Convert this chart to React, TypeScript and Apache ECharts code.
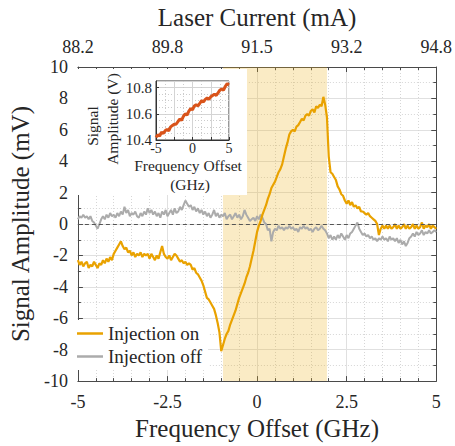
import React, { useEffect, useRef } from 'react';
import * as echarts from 'echarts';

// Sampling grid of the main traces (GHz)
const freqStart = -5;
const freqStep = 0.05;

// Injection on (mV)
const injectionOn = [
  -2.3, -2.6, -2.4, -2.7, -2.5, -2.4, -2.8, -2.6, -2.7, -2.4, -2.6, -2.8, -2.5, -2.6, -2.3, -2.5, -2.2, -2.4, -2.1, -2.3,
  -1.9, -1.7, -1.5, -1.3, -1.1, -1.4, -1.6, -1.5, -1.8, -1.7, -2.0, -1.8, -2.1, -1.9, -2.0, -1.8, -2.1, -1.9, -2.0, -1.9,
  -2.2, -1.9, -2.1, -2.3, -2.0, -2.2, -1.8, -1.4, -1.9, -2.1, -2.2, -2.0, -2.3, -2.1, -1.9, -2.0, -2.2, -2.4, -2.3, -2.5,
  -2.4, -2.6, -2.5, -2.6, -2.9, -2.8, -3.1, -3.2, -3.4, -3.6, -3.9, -4.3, -4.7, -4.8, -5.0, -5.2, -5.4, -5.8, -6.3, -6.9,
  -8.1, -7.7, -7.3, -7.0, -6.8, -6.4, -6.1, -5.8, -5.5, -5.1, -4.7, -4.4, -4.1, -3.8, -3.4, -3.1, -2.7, -2.2, -1.7, -1.1,
  -0.5, -0.1, 0.2, 0.6, 0.9, 1.2, 1.6, 1.9, 2.3, 2.5, 2.7, 3.0, 3.3, 3.5, 3.8, 4.3, 4.8, 5.2, 5.7, 5.9,
  6.0, 5.9, 6.2, 6.3, 6.5, 6.7, 6.6, 6.9, 7.0, 6.9, 7.2, 7.3, 7.1, 7.5, 7.4, 7.6, 7.5, 8.1, 7.6, 6.8,
  4.3, 3.3, 3.2, 3.0, 2.8, 2.4, 2.2, 1.9, 1.8, 1.5, 1.3, 1.5, 1.2, 1.4, 1.1, 1.2, 1.0, 1.1, 0.8, 0.8,
  0.7, 0.6, 0.7, 0.5, 0.4, 0.3, 0.2, 0.0, -0.7, -0.3, -0.1, -0.3, -0.1, -0.3, -0.1, -0.3, -0.2, 0.0, -0.3, -0.1,
  -0.3, -0.2, 0.0, -0.3, -0.1, -0.3, -0.2, 0.0, -0.3, -0.1, -0.3, -0.2, 0.1, -0.3, -0.1, -0.2, 0.0, -0.3, -0.1, -0.2,
  -0.3,
];

// Injection off (mV)
const injectionOff = [
  0.3, 0.5, 0.4, 0.6, 0.4, 0.5, 0.3, 0.5, 0.2, 0.1, -0.1, -0.3, 0.0, 0.3, 0.5, 0.3, 0.6, 0.4, 0.7, 0.5,
  0.6, 0.4, 0.7, 0.5, 0.8, 0.6, 1.1, 0.7, 0.9, 0.5, 0.7, 0.6, 0.8, 0.5, 0.4, 0.7, 0.5, 0.8, 0.6, 1.0,
  0.7, 0.9, 0.6, 0.8, 0.5, 0.7, 0.4, 0.8, 0.6, 0.9, 0.5, 0.7, 0.9, 0.6, 1.0, 0.7, 0.8, 1.1, 0.9, 1.2,
  1.5, 1.3, 1.1, 1.2, 0.9, 1.1, 0.8, 1.0, 0.7, 0.9, 0.6, 0.8, 0.5, 0.7, 0.4, 0.6, 0.9, 0.5, 0.7, 0.4,
  0.6, 0.5, 0.7, 0.3, 0.5, 0.6, 0.3, 0.5, 0.7, 0.4, 0.6, 0.3, 0.5, 0.9, 0.6, 0.4, 0.2, 0.3, 0.4, 0.2,
  0.5, 0.3, 0.6, 0.4, 0.1, 0.0, -0.4, -0.3, -1.1, -0.5, -0.3, -0.4, -0.1, -0.3, -0.2, -0.4, -0.2, -0.3, -0.1, -0.3,
  -0.2, -0.4, -0.3, -0.5, -0.2, -0.3, -0.1, -0.3, -0.2, -0.4, -0.3, -0.5, -0.3, -0.2, -0.4, -0.3, -0.1, -0.3, -0.4, -0.6,
  -0.9, -0.7, -1.0, -0.8, -1.0, -0.7, -0.9, -0.6, -0.8, -1.0, -0.7, -0.9, -0.6, -0.5, -0.3, -0.1, 0.1, -0.3, -0.5, -0.7,
  -0.6, -0.8, -0.7, -0.9, -0.8, -1.0, -0.9, -1.1, -0.9, -1.0, -0.8, -1.0, -0.9, -1.1, -0.8, -1.0, -0.9, -1.1, -0.9, -1.2,
  -1.0, -1.3, -1.1, -1.4, -1.2, -0.9, -0.8, -0.6, -0.8, -0.5, -0.7, -0.6, -0.4, -0.7, -0.5, -0.6, -0.4, -0.6, -0.5, -0.4,
  -0.5,
];

// Inset: frequency offset (GHz) and signal amplitude (V)
const insetFreq = [
  -5, -4.75, -4.5, -4.25, -4, -3.75, -3.5, -3.25, -3, -2.75, -2.5, -2.25, -2, -1.75, -1.5, -1.25, -1, -0.75, -0.5, -0.25,
  0, 0.25, 0.5, 0.75, 1, 1.25, 1.5, 1.75, 2, 2.25, 2.5, 2.75, 3, 3.25, 3.5, 3.75, 4, 4.25, 4.5, 4.75, 5,
];
const insetAmp = [
  10.42, 10.44, 10.43, 10.46, 10.45, 10.47, 10.48, 10.47, 10.5, 10.51, 10.52, 10.52, 10.54, 10.56, 10.55, 10.58, 10.6, 10.59, 10.62, 10.64,
  10.63, 10.66, 10.67, 10.66, 10.68, 10.7, 10.69, 10.71, 10.72, 10.71, 10.73, 10.74, 10.75, 10.74, 10.76, 10.78, 10.79, 10.78, 10.81, 10.83, 10.82,
];

const topTickLabels = ['88.2', '89.8', '91.5', '93.2', '94.8'];
const shadedRange = [-0.95, 1.95];
const seriesNames = ['Injection on', 'Injection off'];

const FONT = 'Liberation Serif';
const TXT = '#262626';
const AX = '#4a4a4a';

function buildOption() {
  const onData = injectionOn.map((v, i) => [+(freqStart + i * freqStep).toFixed(2), v]);
  const offData = injectionOff.map((v, i) => [+(freqStart + i * freqStep).toFixed(2), v]);
  const insetData = insetFreq.map((f, i) => [f, insetAmp[i]]);

  const tickStyle = { show: true, inside: true, length: 5, lineStyle: { color: AX } };
  const minorTickStyle = (n: number) => ({ show: true, splitNumber: n, length: 3, lineStyle: { color: AX } });

  return {
    animation: false,
    textStyle: { fontFamily: FONT },
    grid: [
      { left: 71, right: 17, top: 67, bottom: 55 },
      { left: 156, top: 81, width: 73, height: 59, show: true, backgroundColor: '#fff', borderColor: '#333', borderWidth: 1, z: 5 },
    ],
    legend: {
      data: seriesNames,
      orient: 'vertical',
      left: 72,
      top: 320,
      icon: 'rect',
      itemWidth: 26,
      itemHeight: 2.5,
      itemGap: 4,
      backgroundColor: '#fff',
      padding: [4, 6, 4, 5],
      textStyle: { fontFamily: FONT, fontSize: 19, color: TXT },
    },
    xAxis: [
      {
        type: 'value', gridIndex: 0, min: -5, max: 5, interval: 2.5, position: 'bottom',
        name: 'Frequency Offset (GHz)', nameLocation: 'middle', nameGap: 27,
        nameTextStyle: { fontFamily: FONT, fontSize: 25, color: TXT },
        axisLine: { show: true, onZero: false, lineStyle: { color: AX } },
        axisTick: tickStyle,
        minorTick: minorTickStyle(5),
        axisLabel: { fontFamily: FONT, fontSize: 18, color: TXT, margin: 12 },
        splitLine: { show: true, lineStyle: { color: '#e0e0e0', width: 1 } },
        minorSplitLine: { show: true, lineStyle: { color: '#d6d6d6', type: [1, 2] } },
      },
      {
        type: 'value', gridIndex: 0, min: -5, max: 5, interval: 2.5, position: 'top',
        name: 'Laser Current (mA)', nameLocation: 'middle', nameGap: 37,
        nameTextStyle: { fontFamily: FONT, fontSize: 25, color: TXT },
        axisLine: { show: true, onZero: false, lineStyle: { color: AX } },
        axisTick: tickStyle,
        minorTick: minorTickStyle(5),
        axisLabel: {
          fontFamily: FONT, fontSize: 18, color: TXT, margin: 11,
          formatter: (v: number) => topTickLabels[Math.round((v + 5) / 2.5)] ?? '',
        },
        splitLine: { show: false },
      },
      {
        type: 'value', gridIndex: 1, min: -5, max: 5, interval: 2.5, z: 6,
        axisLine: { show: true, onZero: false, lineStyle: { color: '#333' } },
        axisTick: { show: true, inside: true, length: 3, lineStyle: { color: '#333' } },
        axisLabel: {
          fontFamily: FONT, fontSize: 14, color: TXT, margin: 1,
          formatter: (v: number) => (Math.abs(v % 5) < 1e-9 ? String(v) : ''),
        },
        splitLine: { show: true, lineStyle: { color: '#d4d4d4' } },
        minorSplitLine: { show: true, lineStyle: { color: '#cccccc', type: [1, 2] } },
        minorTick: { show: false, splitNumber: 2 },
      },
    ],
    yAxis: [
      {
        type: 'value', gridIndex: 0, min: -10, max: 10, interval: 2, position: 'left',
        name: 'Signal Amplitude (mV)', nameLocation: 'middle', nameGap: 31,
        nameTextStyle: { fontFamily: FONT, fontSize: 25, color: TXT },
        axisLine: { show: true, onZero: false, lineStyle: { color: AX } },
        axisTick: tickStyle,
        minorTick: minorTickStyle(2),
        axisLabel: { fontFamily: FONT, fontSize: 18, color: TXT, margin: 10 },
        splitLine: { show: true, lineStyle: { color: '#e0e0e0', width: 1 } },
        minorSplitLine: { show: true, lineStyle: { color: '#d6d6d6', type: [1, 2] } },
      },
      {
        type: 'value', gridIndex: 0, min: -10, max: 10, interval: 2, position: 'right',
        axisLine: { show: true, onZero: false, lineStyle: { color: AX } },
        axisTick: tickStyle,
        minorTick: minorTickStyle(2),
        axisLabel: { show: false },
        splitLine: { show: false },
      },
      {
        type: 'value', gridIndex: 1, min: 10.4, max: 10.85, interval: 0.2, z: 6,
        axisLine: { show: true, onZero: false, lineStyle: { color: '#333' } },
        axisTick: { show: true, inside: true, length: 3, lineStyle: { color: '#333' } },
        axisLabel: {
          fontFamily: FONT, fontSize: 15, color: TXT, margin: 4, showMaxLabel: false,
          formatter: (v: number) => v.toFixed(1),
        },
        splitLine: { show: true, lineStyle: { color: '#d4d4d4' } },
        minorSplitLine: { show: true, lineStyle: { color: '#cccccc', type: [1, 2] } },
        minorTick: { show: false, splitNumber: 4 },
      },
    ],
    graphic: {
      elements: [
        { type: 'rect', shape: { x: 72, y: 69, width: 175, height: 126 }, style: { fill: '#fff' }, z: 4, silent: true },
        {
          type: 'text', x: 92, y: 126, rotation: Math.PI / 2, z: 8,
          style: { text: 'Signal', fontFamily: FONT, fontSize: 15.5, fill: TXT, textAlign: 'center', textVerticalAlign: 'middle' },
        },
        {
          type: 'text', x: 112, y: 119, rotation: Math.PI / 2, z: 8,
          style: { text: 'Amplitude (V)', fontFamily: FONT, fontSize: 15.5, fill: TXT, textAlign: 'center', textVerticalAlign: 'middle' },
        },
        {
          type: 'text', x: 188, y: 165, z: 8,
          style: { text: 'Frequency Offset', fontFamily: FONT, fontSize: 15.5, fill: TXT, textAlign: 'center', textVerticalAlign: 'middle' },
        },
        {
          type: 'text', x: 190, y: 184, z: 8,
          style: { text: '(GHz)', fontFamily: FONT, fontSize: 15.5, fill: TXT, textAlign: 'center', textVerticalAlign: 'middle' },
        },
      ],
    },
    series: [
      {
        name: 'Injection off', type: 'line', xAxisIndex: 0, yAxisIndex: 0, data: offData,
        symbol: 'none', z: 2,
        lineStyle: { color: '#ababab', width: 2 }, itemStyle: { color: '#ababab' },
        markArea: {
          silent: true,
          itemStyle: { color: 'rgba(237,177,32,0.26)' },
          data: [[{ xAxis: shadedRange[0] }, { xAxis: shadedRange[1] }]],
        },
        markLine: {
          silent: true, symbol: 'none', label: { show: false },
          lineStyle: { color: '#555', type: [4, 3], width: 1 },
          data: [{ yAxis: 0 }],
        },
      },
      {
        name: 'Injection on', type: 'line', xAxisIndex: 0, yAxisIndex: 0, data: onData,
        symbol: 'none', z: 3,
        lineStyle: { color: '#E9A200', width: 2.2 }, itemStyle: { color: '#E9A200' },
      },
      {
        name: 'Inset', type: 'line', xAxisIndex: 2, yAxisIndex: 2, data: insetData,
        symbol: 'none', z: 7,
        lineStyle: { color: '#D9531A', width: 3 }, itemStyle: { color: '#D9531A' },
      },
    ],
  };
}

export default function App() {
  const ref = useRef<HTMLDivElement>(null);
  useEffect(() => {
    if (!ref.current) return;
    const chart = echarts.init(ref.current, undefined, { renderer: 'svg' });
    chart.setOption(buildOption() as any);
    return () => chart.dispose();
  }, []);
  return (
    <div
      ref={ref}
      style={{ position: 'fixed', left: 0, top: 0, width: 455, height: 446, background: '#fff' }}
    />
  );
}
